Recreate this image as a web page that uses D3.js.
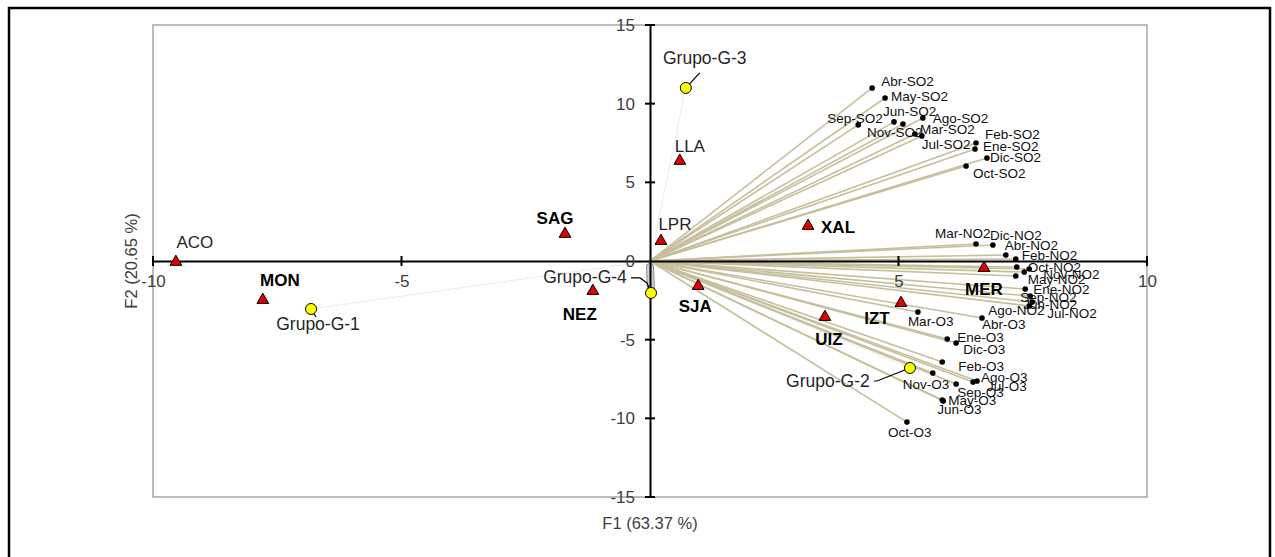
<!DOCTYPE html>
<html>
<head>
<meta charset="utf-8">
<script src="https://cdn.jsdelivr.net/npm/d3@7"></script>
<style>
  body { margin: 0; background: #fff; }
  svg text { font-family: "Liberation Sans", Arial, sans-serif; }
</style>
</head>
<body>
<div id="chart"></div>
<script>
// biplot values (F1, F2)
var vectorNames = ["Abr-SO2","May-SO2","Jun-SO2","Sep-SO2","Ago-SO2","Nov-SO2","Mar-SO2","Jul-SO2","Feb-SO2","Ene-SO2","Dic-SO2","Oct-SO2",
  "Mar-NO2","Dic-NO2","Abr-NO2","Feb-NO2","Oct-NO2","Nov-NO2","May-NO2","Ago-NO2","Ene-NO2","Sep-NO2","Jun-NO2","Jul-NO2",
  "Mar-O3","Abr-O3","Ene-O3","Dic-O3","Feb-O3","Nov-O3","Ago-O3","Jul-O3","Sep-O3","May-O3","Jun-O3","Oct-O3"];
var vectorF1 = [4.47,4.73,4.91,4.19,5.49,5.09,5.33,5.47,6.56,6.54,6.78,6.36,
  6.56,6.90,7.16,7.36,7.38,7.63,7.36,7.53,7.55,7.65,7.69,7.63,
  5.39,6.68,5.98,6.16,5.88,5.69,6.58,6.50,6.16,5.88,5.90,5.17];
var vectorF2 = [11.00,10.36,8.84,8.65,9.09,8.71,8.07,7.95,7.50,7.12,6.55,6.04,
  1.08,1.02,0.38,0.13,-0.38,-0.51,-0.95,-0.70,-1.78,-2.23,-2.61,-2.86,
  -3.24,-3.62,-4.96,-5.21,-6.42,-7.12,-7.63,-7.69,-7.82,-8.84,-8.90,-10.24];

var stationNames = ["ACO","MON","SAG","LPR","LLA","NEZ","SJA","XAL","MER","IZT","UIZ"];
var stationF1 = [-9.54,-7.79,-1.71,0.22,0.60,-1.15,0.97,3.18,6.72,5.05,3.52];
var stationF2 = [-0.06,-2.48,1.72,1.27,6.36,-1.91,-1.59,2.23,-0.45,-2.67,-3.56];
var boldStations = ["MON","SAG","NEZ","SJA","XAL","MER","IZT","UIZ"];

var groupNames = ["Grupo-G-1","Grupo-G-2","Grupo-G-3","Grupo-G-4"];
var groupF1 = [-6.82,5.23,0.72,0.02];
var groupF2 = [-3.05,-6.80,11.00,-2.03];

var xTicks = [-10,-5,5,10];
var yTicks = [15,10,5,0,-5,-10,-15];

// label placement (px offsets from the point)
var vectorLabelOff = {
  "Abr-SO2":[9,-7],"May-SO2":[6,-2],"Jun-SO2":[-11,-11],"Sep-SO2":[-31,-7],"Ago-SO2":[10,0],"Nov-SO2":[-36,8],
  "Mar-SO2":[5,-5],"Jul-SO2":[0,8],"Feb-SO2":[9,-9],"Ene-SO2":[8,-3],"Dic-SO2":[3,-1],"Oct-SO2":[7,7],
  "Mar-NO2":[-41,-11],"Dic-NO2":[-3,-10],"Abr-NO2":[-1,-10],"Feb-NO2":[6,-4],"Oct-NO2":[11,0],"Nov-NO2":[14,5],
  "May-NO2":[12,3],"Ago-NO2":[-36,38],"Ene-NO2":[8,0],"Sep-NO2":[-10,1],"Jun-NO2":[-9,2],"Jul-NO2":[18,7],
  "Mar-O3":[-10,9],"Abr-O3":[0,6],"Ene-O3":[10,-2],"Dic-O3":[7,6],"Feb-O3":[16,4],"Nov-O3":[-30,11],
  "Ago-O3":[4,-4],"Jul-O3":[14,4],"Sep-O3":[1,8],"May-O3":[6,0],"Jun-O3":[-6,8],"Oct-O3":[-19,10]
};
var stationLabelOff = {
  "ACO":[19,-20],"MON":[17,-20],"SAG":[-10,-16],"LPR":[14,-17],"LLA":[10,-15],"NEZ":[-13,23],
  "SJA":[-3,20],"XAL":[30,1],"MER":[0,21],"IZT":[-24,15],"UIZ":[4,22]
};
var groupLabelOff = {
  "Grupo-G-1":[7,15],"Grupo-G-2":[-82,13],"Grupo-G-3":[19,-30],"Grupo-G-4":[-66,-16]
};

var W = 1275, H = 557;
var pLeft = 153, pRight = 1147, pTop = 25, pBottom = 497;

var svg = d3.select("#chart").append("svg")
  .attr("width", W)
  .attr("height", H);

// outer frame
svg.append("rect")
  .attr("x", 9).attr("y", 8)
  .attr("width", 1261).attr("height", 560)
  .attr("fill", "none")
  .attr("stroke", "#000")
  .attr("stroke-width", 2.5);

var x = d3.scaleLinear().domain([-10, 10]).range([pLeft, pRight]);
var y = d3.scaleLinear().domain([-15, 15]).range([pBottom, pTop]);

// plot area border
svg.append("rect")
  .attr("x", pLeft).attr("y", pTop)
  .attr("width", pRight - pLeft).attr("height", pBottom - pTop)
  .attr("fill", "none")
  .attr("stroke", "#a6a6a6")
  .attr("stroke-width", 1.5);

// faint lines to group centroids
var g4 = groupNames.indexOf("Grupo-G-4");
groupNames.forEach(function(n, i) {
  if (i == g4) return;
  svg.append("line")
    .attr("x1", x(0)).attr("y1", y(0))
    .attr("x2", x(groupF1[i])).attr("y2", y(groupF2[i]))
    .attr("stroke", "#ececec")
    .attr("stroke-width", 1);
});
svg.append("line")
  .attr("x1", x(0)).attr("y1", y(0) + 6)
  .attr("x2", x(groupF1[g4])).attr("y2", y(groupF2[g4]) - 3)
  .attr("stroke", "#8c8c8c")
  .attr("stroke-width", 8)
  .attr("stroke-linecap", "round");
svg.append("line")
  .attr("x1", x(0)).attr("y1", y(0) + 6)
  .attr("x2", x(groupF1[g4])).attr("y2", y(groupF2[g4]) - 3)
  .attr("stroke", "#d0d0d0")
  .attr("stroke-width", 6)
  .attr("stroke-linecap", "round");

// variable vectors
vectorNames.forEach(function(n, i) {
  svg.append("line")
    .attr("x1", x(0)).attr("y1", y(0))
    .attr("x2", x(vectorF1[i])).attr("y2", y(vectorF2[i]))
    .attr("stroke", "#c6bf9c")
    .attr("stroke-width", 1.6);
});

var fmt = function(d) { return String(d); };

// axes through origin
var xAxis = d3.axisBottom(x).tickValues(xTicks).tickSize(0).tickPadding(14).tickFormat(fmt);
var gx = svg.append("g").attr("transform", "translate(0," + y(0) + ")").call(xAxis);
gx.select(".domain").attr("stroke", "#000").attr("stroke-width", 2);
gx.selectAll("text").attr("font-size", 17).attr("fill", "#404040")
  .attr("font-family", "Liberation Sans, Arial, sans-serif");
xTicks.forEach(function(t) {
  svg.append("line")
    .attr("x1", x(t)).attr("x2", x(t))
    .attr("y1", y(0) - 5).attr("y2", y(0) + 5)
    .attr("stroke", "#000").attr("stroke-width", 2);
});

var yAxis = d3.axisLeft(y).tickValues(yTicks).tickSize(0).tickPadding(15).tickFormat(fmt);
var gy = svg.append("g").attr("transform", "translate(" + x(0) + ",0)").call(yAxis);
gy.select(".domain").attr("stroke", "#000").attr("stroke-width", 2);
gy.selectAll("text").attr("font-size", 17).attr("fill", "#404040")
  .attr("font-family", "Liberation Sans, Arial, sans-serif");
yTicks.forEach(function(t) {
  if (t == 0) return;
  svg.append("line")
    .attr("x1", x(0) - 5).attr("x2", x(0) + 5)
    .attr("y1", y(t)).attr("y2", y(t))
    .attr("stroke", "#000").attr("stroke-width", 2);
});

// axis titles
svg.append("text")
  .attr("x", x(0)).attr("y", 529)
  .attr("text-anchor", "middle")
  .attr("font-size", 16.5).attr("fill", "#404040")
  .text("F1 (63.37 %)");
svg.append("text")
  .attr("transform", "translate(137," + y(0) + ") rotate(-90)")
  .attr("text-anchor", "middle")
  .attr("font-size", 16.5).attr("fill", "#404040")
  .text("F2 (20.65 %)");

// vector end points and labels
vectorNames.forEach(function(n, i) {
  var px = x(vectorF1[i]), py = y(vectorF2[i]);
  svg.append("circle")
    .attr("cx", px).attr("cy", py).attr("r", 2.8)
    .attr("fill", "#000");
  var off = vectorLabelOff[n];
  svg.append("text")
    .attr("x", px + off[0]).attr("y", py + off[1])
    .attr("dy", "0.35em")
    .attr("font-size", 13.5).attr("fill", "#111")
    .text(n);
});

// stations
var tri = d3.symbol().type(d3.symbolTriangle).size(60);
stationNames.forEach(function(n, i) {
  var px = x(stationF1[i]), py = y(stationF2[i]);
  svg.append("path")
    .attr("d", tri)
    .attr("transform", "translate(" + px + "," + py + ")")
    .attr("fill", "#e00000")
    .attr("stroke", "#000")
    .attr("stroke-width", 1);
  var off = stationLabelOff[n];
  var bold = boldStations.indexOf(n) >= 0;
  svg.append("text")
    .attr("x", px + off[0]).attr("y", py + off[1])
    .attr("dy", "0.35em")
    .attr("text-anchor", "middle")
    .attr("font-size", 17)
    .attr("font-weight", bold ? "bold" : "normal")
    .attr("fill", bold ? "#000" : "#262626")
    .text(n);
});

// group centroids with leader lines
var leaders = {
  "Grupo-G-1":[[0,0],[5,8]],
  "Grupo-G-2":[[0,0],[-33,13],[-36,13]],
  "Grupo-G-3":[[0,0],[14,-15]],
  "Grupo-G-4":[[0,0],[-4,-10],[-11,-15],[-20,-15]]
};
groupNames.forEach(function(n, i) {
  var px = x(groupF1[i]), py = y(groupF2[i]);
  svg.append("path")
    .attr("d", d3.line()(leaders[n].map(function(p) { return [px + p[0], py + p[1]]; })))
    .attr("fill", "none")
    .attr("stroke", "#000")
    .attr("stroke-width", 1.2);
  svg.append("circle")
    .attr("cx", px).attr("cy", py).attr("r", 5.5)
    .attr("fill", "#ffff00")
    .attr("stroke", "#000")
    .attr("stroke-width", 1);
  var off = groupLabelOff[n];
  svg.append("text")
    .attr("x", px + off[0]).attr("y", py + off[1])
    .attr("dy", "0.35em")
    .attr("text-anchor", "middle")
    .attr("font-size", 17.5).attr("fill", "#262626")
    .text(n);
});
</script>
</body>
</html>
